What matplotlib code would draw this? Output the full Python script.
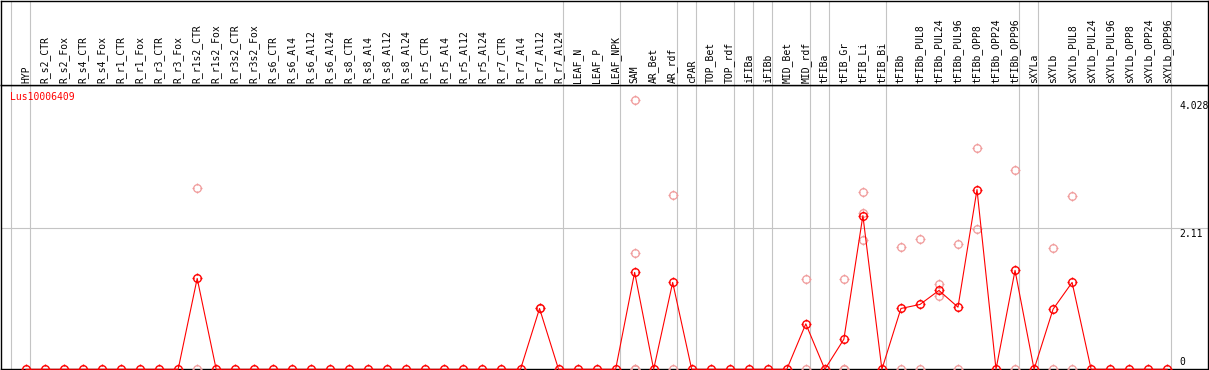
import matplotlib
matplotlib.use("Agg")
import matplotlib.pyplot as plt
from matplotlib.path import Path
from matplotlib.transforms import blended_transform_factory

# ---------------- data ----------------
categories = [
    "HYP",
    "R_s2_CTR", "R_s2_Fox", "R_s4_CTR", "R_s4_Fox", "R_r1_CTR", "R_r1_Fox",
    "R_r3_CTR", "R_r3_Fox", "R_r1s2_CTR", "R_r1s2_Fox", "R_r3s2_CTR", "R_r3s2_Fox",
    "R_s6_CTR", "R_s6_Al4", "R_s6_Al12", "R_s6_Al24",
    "R_s8_CTR", "R_s8_Al4", "R_s8_Al12", "R_s8_Al24",
    "R_r5_CTR", "R_r5_Al4", "R_r5_Al12", "R_r5_Al24",
    "R_r7_CTR", "R_r7_Al4", "R_r7_Al12", "R_r7_Al24",
    "LEAF_N", "LEAF_P", "LEAF_NPK",
    "SAM", "AR_Bet", "AR_rdf",
    "cPAR",
    "TOP_Bet", "TOP_rdf",
    "iFIBa",
    "iFIBb",
    "MID_Bet", "MID_rdf",
    "tFIBa",
    "tFIB_Gr", "tFIB_Li", "tFIB_Bi",
    "tFIBb", "tFIBb_PUL8", "tFIBb_PUL24", "tFIBb_PUL96",
    "tFIBb_OPP8", "tFIBb_OPP24", "tFIBb_OPP96",
    "sXYLa",
    "sXYLb", "sXYLb_PUL8", "sXYLb_PUL24", "sXYLb_PUL96",
    "sXYLb_OPP8", "sXYLb_OPP24", "sXYLb_OPP96",
]
group_sizes = [1, 28, 3, 3, 1, 2, 1, 1, 2, 1, 3, 7, 1, 7]

mean_values = [
    0,
    0, 0, 0, 0, 0, 0, 0, 0, 1.36, 0, 0, 0,
    0, 0, 0, 0, 0, 0, 0, 0, 0, 0, 0, 0, 0, 0, 0.91, 0,
    0, 0, 0,
    1.45, 0, 1.30,
    0,
    0, 0,
    0,
    0,
    0, 0.68,
    0,
    0.45, 2.30, 0,
    0.91, 0.97, 1.18, 0.93, 2.69, 0, 1.48,
    0,
    0.90, 1.30, 0, 0, 0, 0, 0,
]

replicates = {
    "R_r1s2_CTR": [2.72, 0],
    "R_r7_Al12": [0.91],
    "SAM": [4.028, 1.74, 0, 0],
    "AR_rdf": [2.61, 0],
    "MID_rdf": [1.35, 0],
    "tFIB_Gr": [1.35, 0, 0],
    "tFIB_Li": [2.65, 2.335, 1.93],
    "tFIBb": [1.83, 0],
    "tFIBb_PUL8": [1.95, 0],
    "tFIBb_PUL24": [1.28, 1.09],
    "tFIBb_PUL96": [1.87, 0],
    "tFIBb_OPP8": [3.31, 2.10],
    "tFIBb_OPP96": [2.98, 0],
    "sXYLb": [1.81, 0],
    "sXYLb_PUL8": [2.60, 0],
}

title = "Lus10006409"
ytick_values = [0, 2.11, 4.028]
ytick_labels = ["0", "2.11", "4.028"]

# ---------------- layout ----------------
W, H = 1209, 370
fig = plt.figure(figsize=(W / 100, H / 100), dpi=100)
fig.patch.set_facecolor("white")

header_bottom = 85.0
baseline = 369.3
left_px, right_px = 1.0, 1208.0
first_px, step_px = 26.0, 19.02
grid_px = 141.0  # pixel height of the 2.11 grid line above baseline

ax = fig.add_axes([left_px / W, (H - baseline) / H,
                   (right_px - left_px) / W, (baseline - header_bottom) / H])
hax = fig.add_axes([left_px / W, (H - header_bottom) / H,
                    (right_px - left_px) / W, (header_bottom - 0.5) / H])

xlim = ((left_px - first_px) / step_px, (right_px - first_px) / step_px)
ymax = (baseline - header_bottom) * ytick_values[1] / grid_px
for a in (ax, hax):
    a.set_xlim(*xlim)
    a.set_xticks([])
    a.set_yticks([])
    for s in a.spines.values():
        s.set_color("black")
        s.set_linewidth(1.0)
ax.set_ylim(0, ymax)
hax.set_ylim(0, 1)

RED = "#ff0000"
PALE = "#f09a9a"
GRAY = "#c4c4c4"

# group separators
bounds = [0]
for g in group_sizes:
    bounds.append(bounds[-1] + g)
sep_offset = 15.0 / step_px
for b in bounds:
    for a in (ax, hax):
        a.axvline(b - sep_offset, color=GRAY, lw=0.8, zorder=1)

# grid line at middle tick
ax.axhline(ytick_values[1], color=GRAY, lw=0.8, zorder=1)

# tick-only marker (four short spokes around the circle)
r0, r1 = 1.0, 1.45
tick_marker = Path([(0, r0), (0, r1), (0, -r0), (0, -r1),
                    (r0, 0), (r1, 0), (-r0, 0), (-r1, 0)],
                   [Path.MOVETO, Path.LINETO] * 4)
CIRC_MS = 5.5
TICK_MS = 6.8

x = list(range(len(categories)))

# replicate points
rx, ry = [], []
for name, vals in replicates.items():
    i = categories.index(name)
    for v in vals:
        rx.append(i)
        ry.append(v)


def draw_markers(xs, ys, color, mew, z):
    ax.plot(xs, ys, linestyle="none", marker="o", markersize=CIRC_MS,
            markerfacecolor="none", markeredgecolor=color, markeredgewidth=mew,
            zorder=z, clip_on=False)
    ax.plot(xs, ys, linestyle="none", marker=tick_marker, markersize=TICK_MS,
            markerfacecolor="none", markeredgecolor=color, markeredgewidth=mew,
            zorder=z, clip_on=False)


draw_markers(rx, ry, PALE, 0.9, 3)

# mean line
ax.plot(x, mean_values, color=RED, lw=0.8, zorder=4, clip_on=False)
draw_markers(x, mean_values, RED, 1.0, 5)

# category labels
mono = "DejaVu Sans Mono"
htr = blended_transform_factory(hax.transData, hax.transAxes)
for i, lab in enumerate(categories):
    hax.text(i, 1.7 / header_bottom, lab, rotation=90, ha="center", va="bottom",
             fontsize=7, family=mono, color="black", transform=htr)

# title
ax.annotate(title, xy=(0, 1), xycoords="axes fraction", xytext=(9, -15),
            textcoords="offset pixels", ha="left", va="baseline",
            fontsize=7, family=mono, color=RED)

# y tick labels on the right
ytr = blended_transform_factory(ax.transAxes, ax.transData)
for v, lab in zip(ytick_values, ytick_labels):
    off = 4.3 if v == 0 else -9.0
    ax.annotate(lab, xy=(1, v), xycoords=ytr, xytext=(-29, off),
                textcoords="offset pixels", ha="left", va="baseline",
                fontsize=7, family=mono, color="black")

fig.savefig("out.png", dpi=100, facecolor="white")
